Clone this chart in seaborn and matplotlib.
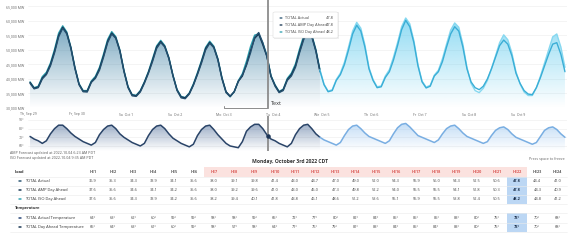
"""Load / temperature dashboard mock-up: day-ahead forecasts vs actual."""
import numpy as np
import pandas as pd
import matplotlib
matplotlib.use('Agg')
import matplotlib.pyplot as plt
import matplotlib.colors as mcolors
from matplotlib.patches import Rectangle, FancyBboxPatch, Circle
import seaborn as sns

# ---- data (GW, two-hourly samples at odd hours, Sep 29 .. Oct 9) ----
day_labels = ['Th, Sep 29', 'Fr, Sep 30', 'Sa, Oct 1', 'Su, Oct 2', 'Mo, Oct 3', 'Tu, Oct 4',
              'We, Oct 5', 'Th, Oct 6', 'Fr, Oct 7', 'Sa, Oct 8', 'Su, Oct 9']

load_actual = [
    38.5, 36.6, 37.0, 40.0, 41.5, 44.5, 49.0, 54.5, 57.5, 55.5, 50.5, 43.5,
    38.0, 35.6, 35.5, 38.8, 40.2, 43.0, 47.5, 52.5, 55.5, 54.0, 49.5, 42.5,
    37.0, 34.2, 34.0, 35.5, 38.5, 42.0, 46.0, 50.5, 52.6, 51.0, 47.0, 41.0,
    36.0, 33.5, 33.2, 34.8, 37.8, 41.5, 45.5, 50.0, 52.3, 50.8, 46.5, 40.0,
    35.3, 33.9, 35.6, 39.1, 41.4, 44.7, 49.0, 54.3, 56.0, 52.5, 47.8, 41.0,
    37.5, 35.3, 36.0, 39.5, 41.0, 44.0, 49.0, 53.5, 56.2, 54.5, 49.5, 42.5,
]
load_amp = [
    38.8, 36.8, 37.2, 40.3, 41.8, 45.0, 49.5, 55.0, 57.8, 55.8, 50.8, 43.8,
    38.2, 35.8, 35.8, 39.0, 40.5, 43.5, 48.0, 53.0, 55.8, 54.2, 49.8, 42.8,
    37.2, 34.5, 34.2, 35.8, 38.8, 42.3, 46.5, 51.0, 52.9, 51.2, 47.2, 41.2,
    36.2, 33.8, 33.5, 35.0, 38.0, 41.8, 46.0, 50.5, 52.6, 51.0, 46.8, 40.3,
    35.6, 34.1, 35.6, 39.2, 41.0, 45.0, 49.8, 54.0, 55.5, 51.8, 47.8, 40.9,
    37.8, 35.5, 36.3, 39.8, 41.5, 44.5, 49.5, 54.0, 56.5, 54.8, 49.8, 42.8,
    38.0, 35.6, 36.0, 39.5, 41.5, 45.0, 50.0, 55.5, 58.5, 56.5, 51.0, 43.5,
    39.5, 37.0, 37.3, 40.5, 42.5, 46.5, 51.5, 57.0, 60.2, 58.0, 52.5, 44.5,
    39.0, 36.9, 37.5, 41.0, 42.5, 46.0, 51.0, 55.5, 58.0, 56.5, 51.0, 43.5,
    39.0, 37.0, 36.3, 37.5, 40.0, 43.5, 47.5, 51.5, 53.4, 52.0, 48.0, 42.0,
    38.5, 36.0, 34.8, 34.6, 37.0, 40.5, 44.5, 48.5, 52.0, 52.5, 48.5, 42.5,
]
load_iso = [
    39.0, 37.0, 37.5, 40.8, 42.3, 45.5, 50.2, 55.8, 58.3, 56.2, 51.0, 44.0,
    38.4, 36.0, 36.0, 39.3, 40.9, 44.0, 48.6, 53.6, 56.3, 54.6, 50.0, 43.0,
    37.4, 34.6, 34.4, 36.0, 39.0, 42.6, 47.0, 51.4, 53.3, 51.5, 47.4, 41.3,
    36.4, 34.0, 33.6, 35.2, 38.3, 42.2, 46.4, 50.9, 53.0, 51.3, 47.0, 40.5,
    35.6, 33.9, 35.6, 39.4, 41.8, 46.1, 51.2, 55.1, 55.5, 52.4, 48.2, 41.2,
    38.0, 35.7, 36.5, 40.2, 42.0, 45.2, 50.3, 54.8, 57.0, 55.2, 50.2, 43.2,
    38.2, 35.8, 36.3, 39.8, 42.0, 45.8, 51.0, 56.5, 59.5, 57.5, 51.8, 44.0,
    39.8, 37.3, 37.6, 41.0, 43.2, 47.5, 52.5, 58.0, 61.0, 59.0, 53.2, 45.0,
    39.3, 37.2, 37.8, 41.3, 43.0, 47.0, 52.0, 56.8, 59.3, 57.8, 52.0, 44.0,
    38.5, 36.0, 35.3, 36.8, 39.5, 43.5, 48.0, 52.5, 55.2, 53.5, 49.0, 42.5,
    38.3, 35.5, 34.3, 34.3, 37.0, 41.0, 45.5, 50.0, 54.5, 55.5, 51.0, 44.0,
]
temp = [
    71, 68, 66, 63, 66, 74, 80, 84, 84, 80, 75, 71,
    68, 65, 63, 61, 64, 73, 79, 83, 84, 80, 74, 70,
    67, 64, 62, 60, 63, 72, 79, 83, 84, 80, 74, 69,
    66, 63, 61, 59, 62, 72, 79, 83, 84, 79, 73, 68,
    63, 60, 59, 58, 65, 77, 82, 85, 85, 80, 73, 68,
    66, 63, 61, 59, 63, 73, 80, 84, 85, 80, 74, 70,
    67, 65, 63, 61, 64, 72, 79, 83, 84, 80, 75, 71,
    69, 67, 65, 63, 66, 74, 81, 85, 86, 82, 77, 72,
    70, 68, 66, 64, 67, 74, 80, 83, 84, 80, 75, 71,
    69, 67, 65, 63, 65, 72, 78, 81, 82, 79, 74, 70,
    68, 66, 64, 62, 64, 71, 78, 81, 82, 79, 74, 70,
]

# ---- table for Monday Oct 3 ----
he_labels = [f'HE{i}' for i in range(1, 25)]
tbl_actual = [36.9, 35.3, 34.3, 33.9, 34.1, 35.6, 38.0, 39.1, 39.8, 41.4, 43.0, 44.7,
              47.0, 49.0, 52.0, 54.3, 55.9, 56.0, 54.3, 52.5, 50.6, 47.8, 44.4, 41.0]
tbl_amp = [37.6, 35.6, 34.6, 34.1, 34.2, 35.6, 38.0, 39.2, 39.6, 41.0, 43.0, 45.0,
           47.3, 49.8, 52.2, 54.0, 55.5, 55.5, 54.1, 51.8, 50.3, 47.8, 44.3, 40.9]
tbl_iso = [37.6, 35.6, 34.3, 33.9, 34.2, 35.6, 38.2, 39.4, 40.1, 41.8, 43.8, 46.1,
           48.6, 51.2, 53.6, 55.1, 55.9, 55.5, 53.8, 52.4, 50.5, 48.2, 44.8, 41.2]
tbl_temp_act = [64, 63, 62, 60, 59, 59, 58, 58, 59, 65, 72, 77,
                80, 82, 84, 85, 85, 85, 83, 80, 75, 73, 70, 68]
tbl_temp_da = [65, 64, 63, 61, 60, 59, 58, 57, 58, 64, 71, 76,
               79, 81, 83, 84, 85, 84, 83, 80, 75, 73, 70, 68]

W, H = 571, 244
N_PAST = 72          # samples up to end of Oct 4
CURSOR = 4 * 24 + 21.5   # Oct 3, HE22
SEL_HE = 22

C_ACT, C_AMP, C_ISO = '#24506f', '#12304e', '#2a9fae'
C_AMP_F, C_ISO_F = '#3aaed6', '#86d8f0'

sns.set_style('white')
plt.rcParams['font.family'] = ['Open Sans', 'DejaVu Sans']

fig = plt.figure(figsize=(W / 100, H / 100), dpi=100)


def px_box(x0, y0, x1, y1):
    return [x0 / W, 1 - y1 / H, (x1 - x0) / W, (y1 - y0) / H]


def fx(px):
    return px / W


def fy(py):
    return 1 - py / H


def gradient_fill(ax, x, y, color, y0, y1, a_top, a_bot, z):
    coll = ax.fill_between(x, y, y0, facecolor='none', edgecolor='none')
    path = coll.get_paths()[0]
    grad = np.zeros((120, 1, 4))
    grad[..., :3] = mcolors.to_rgb(color)
    grad[..., 3] = np.linspace(a_bot, a_top, 120)[:, None]
    im = ax.imshow(grad, extent=[x[0], x[-1], y0, y1], origin='lower',
                   aspect='auto', zorder=z, interpolation='bilinear')
    im.set_clip_path(path, transform=ax.transData)


hours = np.concatenate([d * 24 + np.arange(1, 24, 2) for d in range(len(day_labels))])

# ---- load chart ----
ax = fig.add_axes(px_box(28, 0, 567, 108))
y_lo, y_hi = 30, 67.2
gradient_fill(ax, hours[:N_PAST], np.array(load_actual), '#3a7fa3', y_lo, 63, 0.78, 0.0, 1)
gradient_fill(ax, hours[N_PAST - 1:], np.array(load_iso[N_PAST - 1:]), '#5ccaee', y_lo, 63, 0.72, 0.0, 1)

past = pd.DataFrame({
    'hour': np.tile(hours[:N_PAST], 3),
    'load': load_iso[:N_PAST] + load_amp[:N_PAST] + load_actual,
    'series': ['ISO'] * N_PAST + ['AMP'] * N_PAST + ['Actual'] * N_PAST,
})
sns.lineplot(data=past, x='hour', y='load', hue='series', ax=ax, legend=False,
             palette={'ISO': C_ISO, 'AMP': C_AMP, 'Actual': C_ACT},
             estimator=None, sort=False, lw=1.0, zorder=3)
n_f = len(hours) - N_PAST + 1
fut = pd.DataFrame({
    'hour': np.tile(hours[N_PAST - 1:], 2),
    'load': load_iso[N_PAST - 1:] + load_amp[N_PAST - 1:],
    'series': ['ISO'] * n_f + ['AMP'] * n_f,
})
sns.lineplot(data=fut, x='hour', y='load', hue='series', ax=ax, legend=False,
             palette={'ISO': C_ISO_F, 'AMP': C_AMP_F},
             estimator=None, sort=False, lw=1.0, zorder=3)

ax.set_xlim(0, 264)
ax.set_ylim(y_lo, y_hi)
ax.set_xlabel('')
ax.set_ylabel('')
ax.set_yticks(range(30, 66, 5))
ax.set_yticklabels([f'{v},000 MW' for v in range(30, 66, 5)])
ax.set_xticks(np.arange(0, 264, 24))
ax.set_xticklabels(day_labels)
ax.tick_params(axis='both', labelsize=2.5, colors='#cccccc', labelcolor='#666666',
               length=1.5, width=0.4, pad=1.2)
ax.grid(axis='y', color='#f0f0f0', lw=0.5)
for s in ax.spines.values():
    s.set_visible(False)

ax.axvline(CURSOR, color='#8c8c8c', lw=1.3, zorder=6)
ax.plot([96, 96, CURSOR], [30.8, 30.0, 30.0], color='#8c8c8c', lw=0.7,
        clip_on=False, zorder=6)
ax.text(CURSOR + 1.5, 31.6, 'Text', fontsize=4, color='#333333', va='center', zorder=7)

# ---- temperature chart ----
axt = fig.add_axes(px_box(28, 116, 567, 151))
t_lo, t_hi = 54.2, 94.6
gradient_fill(axt, hours[:N_PAST], np.array(temp[:N_PAST]), '#3d6090', t_lo, 90, 0.6, 0.0, 1)
gradient_fill(axt, hours[N_PAST - 1:], np.array(temp[N_PAST - 1:]), '#8fc0ee', t_lo, 90, 0.6, 0.0, 1)
sns.lineplot(x=hours[:N_PAST], y=temp[:N_PAST], ax=axt, color='#2a4468', lw=1.1, zorder=3)
sns.lineplot(x=hours[N_PAST - 1:], y=temp[N_PAST - 1:], ax=axt, color='#79aee2', lw=1.1, zorder=3)
axt.set_xlim(0, 264)
axt.set_ylim(t_lo, t_hi)
axt.set_xticks([])
axt.set_yticks([60, 70, 80, 90])
axt.set_yticklabels([f'{v}°' for v in [60, 70, 80, 90]])
axt.tick_params(axis='y', labelsize=2.5, colors='#cccccc', labelcolor='#666666',
                length=1.5, width=0.4, pad=1.2)
axt.grid(axis='y', color='#f0f0f0', lw=0.5)
for s in axt.spines.values():
    s.set_visible(False)
axt.axvline(CURSOR, color='#8c8c8c', lw=1.3, zorder=6)
axt.scatter([CURSOR], [np.interp(CURSOR, hours, temp)], s=5, color='#1c3557', zorder=7)

# ---- tooltip ----
fig.add_artist(Rectangle((fx(274), fy(39)), fx(65), 27 / H, transform=fig.transFigure,
                         facecolor='#000000', alpha=0.06, lw=0))
fig.add_artist(FancyBboxPatch((fx(273), fy(38)), fx(65), 26 / H, transform=fig.transFigure,
                              boxstyle='round,pad=0,rounding_size=0.004',
                              facecolor='white', edgecolor='#dddddd', lw=0.4))
tip_rows = [('TOTAL Actual', tbl_actual[SEL_HE - 1], C_ACT),
            ('TOTAL AMP Day Ahead', tbl_amp[SEL_HE - 1], C_AMP),
            ('TOTAL ISO Day Ahead', tbl_iso[SEL_HE - 1], C_ISO)]
for i, (name, val, col) in enumerate(tip_rows):
    yy = 18 + 7 * i
    fig.add_artist(Circle((fx(281), fy(yy)), 1.6 / W, transform=fig.transFigure,
                          facecolor=col, lw=0))
    fig.text(fx(285), fy(yy), name, fontsize=2.8, color='#444444', va='center')
    fig.text(fx(334), fy(yy), f'{val:.1f}', fontsize=2.8, color='#444444', va='center', ha='right')

# ---- notes and title ----
fig.text(fx(10), fy(153), 'AMP Forecast updated at 2022-10-04 6:23 AM PDT', fontsize=2.6,
         color='#555555', va='center')
fig.text(fx(10), fy(157.5), 'ISO Forecast updated at 2022-10-04 9:35 AM PDT', fontsize=2.6,
         color='#555555', va='center')
fig.text(fx(290), fy(162), 'Monday, October 3rd 2022 CDT', fontsize=3.6, fontweight='bold',
         color='#333333', va='center', ha='center')
fig.text(fx(565), fy(159), 'Press space to freeze', fontsize=2.6, color='#666666',
         va='center', ha='right')

# ---- table ----
col_x = [93 + 20.2 * i for i in range(24)]
row_y = {'head': 172, 'act': 181, 'amp': 190, 'iso': 199, 'tsec': 208.5, 'tact': 218, 'tda': 227}
fig.add_artist(Rectangle((fx(col_x[6] - 10), fy(177)), (col_x[21] - col_x[6] + 20) / W, 10 / H,
                         transform=fig.transFigure, facecolor='#fbe2df', lw=0))
for y0, y1 in [(177, 204), (213, 232)]:
    fig.add_artist(Rectangle((fx(col_x[21] - 10), fy(y1)), 20 / W, (y1 - y0) / H,
                             transform=fig.transFigure, facecolor='#bcd7f4', lw=0))
for yl in [177, 186, 195, 204, 213, 222.5, 232]:
    fig.add_artist(plt.Line2D([fx(10), fx(567)], [fy(yl), fy(yl)], transform=fig.transFigure,
                              color='#ebebeb', lw=0.4))

fig.text(fx(15), fy(row_y['head']), 'Load', fontsize=2.9, fontweight='bold', color='#333333', va='center')
for i, lab in enumerate(he_labels):
    hot = 6 <= i <= 21
    fig.text(fx(col_x[i]), fy(row_y['head']), lab, fontsize=2.7, fontweight='bold',
             color='#d9534f' if hot else '#555555', va='center', ha='center')

table_rows = [
    ('act', 'TOTAL Actual', tbl_actual, C_ACT, '{:.1f}'),
    ('amp', 'TOTAL AMP Day Ahead', tbl_amp, C_AMP, '{:.1f}'),
    ('iso', 'TOTAL ISO Day Ahead', tbl_iso, C_ISO, '{:.1f}'),
    ('tact', 'TOTAL Actual Temperature', tbl_temp_act, '#1f3f73', '{}°'),
    ('tda', 'TOTAL Day Ahead Temperature', tbl_temp_da, C_AMP, '{}°'),
]
for key, name, vals, col, fmt in table_rows:
    yy = row_y[key]
    fig.add_artist(Circle((fx(20), fy(yy)), 1.8 / W, transform=fig.transFigure,
                          facecolor=col, lw=0))
    fig.text(fx(25), fy(yy), name, fontsize=2.9, color='#333333', va='center')
    for i, v in enumerate(vals):
        sel = i == SEL_HE - 1
        fig.text(fx(col_x[i]), fy(yy), fmt.format(v), fontsize=2.8,
                 fontweight='bold' if sel else 'normal',
                 color='#1b2f4a' if sel else '#444444', va='center', ha='center')
fig.text(fx(15), fy(row_y['tsec']), 'Temperature', fontsize=2.9, fontweight='bold',
         color='#333333', va='center')

fig.savefig('out.png', dpi=100)
